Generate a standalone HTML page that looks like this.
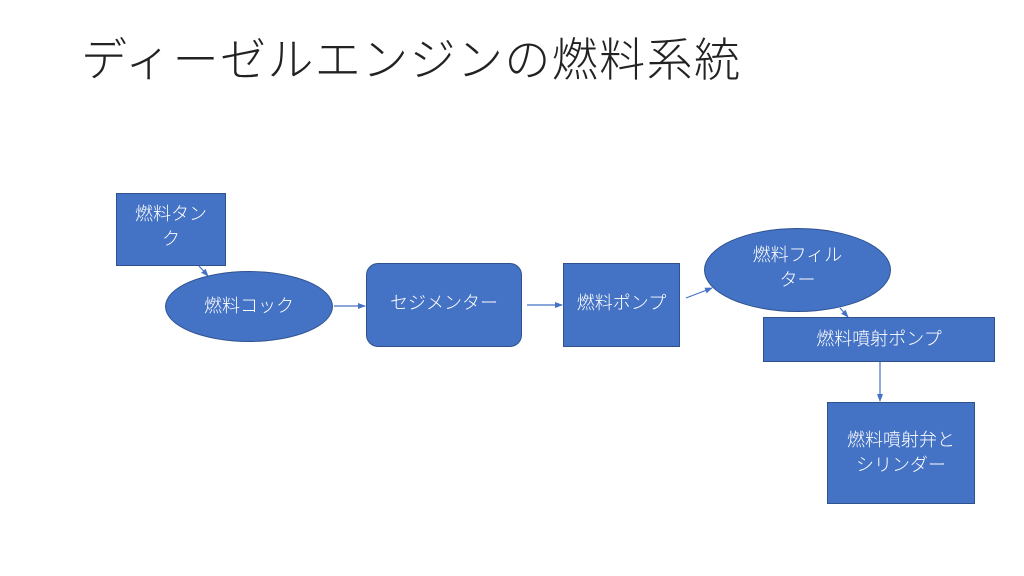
<!DOCTYPE html>
<html><head><meta charset="utf-8"><style>
body{margin:0;width:1024px;height:576px;background:#fff;overflow:hidden;position:relative;font-family:"Liberation Sans","Noto Sans CJK JP",sans-serif}
.t{position:absolute;left:81px;top:24px;font-size:46px;font-weight:300;color:#222;white-space:nowrap;letter-spacing:1.4px}
.n{position:absolute;background:#4472C4;border:1px solid #2F528F;box-sizing:border-box;color:#fff;font-size:18px;display:flex;align-items:center;justify-content:center;text-align:center;line-height:1.4;font-weight:300}
</style></head><body>
<div class="t">ディーゼルエンジンの燃料系統</div>
<svg width="1024" height="576" style="position:absolute;left:0;top:0">
<defs><marker id="a" markerWidth="8" markerHeight="8" refX="7" refY="4" orient="auto" markerUnits="userSpaceOnUse"><path d="M0,1 L8,4 L0,7z" fill="#4472C4"/></marker></defs>
<g stroke="#4472C4" stroke-width="1.2" marker-end="url(#a)">
<line x1="199" y1="266" x2="208" y2="276"/>
<line x1="334" y1="306" x2="365" y2="306"/>
<line x1="527" y1="305" x2="562" y2="305"/>
<line x1="686" y1="298" x2="712" y2="288"/>
<line x1="840" y1="308" x2="848" y2="317"/>
<line x1="880" y1="362" x2="880" y2="401"/>
</g>
</svg>
<div class="n" style="left:116px;top:193px;width:110px;height:73px;align-items:flex-start;padding-top:8px">燃料タン<br>ク</div>
<div class="n" style="left:165px;top:271px;width:168px;height:71px;border-radius:50%">燃料コック</div>
<div class="n" style="left:366px;top:263px;width:156px;height:84px;border-radius:12px;align-items:flex-start;padding-top:27px">セジメンター</div>
<div class="n" style="left:563px;top:263px;width:117px;height:84px;align-items:flex-start;padding-top:27px">燃料ポンプ</div>
<div class="n" style="left:704px;top:228px;width:187px;height:84px;border-radius:50%;align-items:flex-start;padding-top:14px">燃料フィル<br>ター</div>
<div class="n" style="left:763px;top:317px;width:232px;height:45px">燃料噴射ポンプ</div>
<div class="n" style="left:827px;top:402px;width:148px;height:102px">燃料噴射弁と<br>シリンダー</div>
</body></html>
